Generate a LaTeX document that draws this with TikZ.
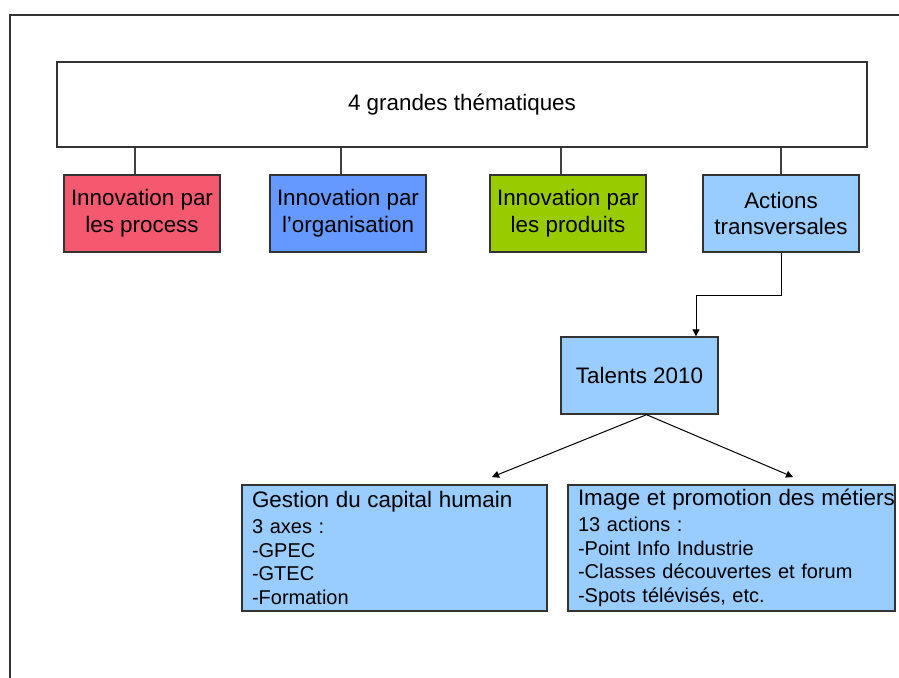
\documentclass[tikz,border=0pt]{standalone}
\usepackage{fontspec}
\setmainfont{Liberation Sans}
\usepackage[HTML]{xcolor}
\usepackage{tikz}
\usetikzlibrary{positioning, arrows.meta}

\definecolor{procred}{HTML}{F5596F}
\definecolor{orgblue}{HTML}{6699FF}
\definecolor{prodgreen}{HTML}{99CC00}
\definecolor{transblue}{HTML}{99CCFF}

\begin{document}
\begin{tikzpicture}[x=0.5pt, y=-0.5pt,
  theme/.style={draw=black!80, line width=0.7pt, minimum width=78pt, minimum height=38.5pt,
    inner sep=0pt, align=center, font=\fontsize{11.2}{13.4}\selectfont},
  detail/.style={draw=black!80, fill=transblue, line width=0.7pt, minimum height=63pt,
    inner xsep=5pt, inner ysep=0pt, align=left, font=\fontsize{10}{11.75}\selectfont},
  link/.style={draw=black!75, line width=0.6pt},
  arrow/.style={draw=black, line width=0.5pt, -{Triangle[length=3.5pt, width=3.5pt]}}]
\useasboundingbox (0,0) rectangle (899,678);
% --- outer frame ---
\draw[black!80, line width=1pt] (10,678) -- (10,15) -- (899,15);
% --- top level ---
\node[theme, minimum width=405pt, minimum height=42.5pt] (top) at (462,104.5) {4 grandes thématiques};
% --- four themes ---
\node[theme, fill=procred] (process) at (142,213.5) {Innovation par\\les process};
\node[theme, fill=orgblue] (orga) at (348,213.5) {Innovation par\\l’organisation};
\node[theme, fill=prodgreen] (produits) at (568,213.5) {Innovation par\\les produits};
\node[theme, fill=transblue] (transv) at (781,213.5) {Actions\\transversales};
\foreach \n/\dx in {process/-7, orga/-7, produits/-7, transv/0}
  \draw[link] (\n.north) ++(\dx,0) coordinate (foot) -- (foot |- top.south);
% --- Talents 2010 ---
\node[theme, fill=transblue, minimum width=78.5pt] (talents) at (639.5,375.5) {Talents 2010};
\draw[arrow] (transv.south) -- ++(0,43) -| ([xshift=28.25pt]talents.north);
% --- two axes ---
\node[detail, text width=142.5pt] (capital) at (394.5,548) {{\fontsize{11.2}{13.4}\selectfont Gestion du capital humain}\\[1.3pt]
  3 axes :\\-GPEC\\-GTEC\\-Formation};
\node[detail, text width=153.5pt] (metiers) at (731.5,548) {\mbox{\fontsize{11.2}{13.4}\selectfont Image et promotion des métiers}\\[1.3pt]
  13 actions :\\-Point Info Industrie\\-Classes découvertes et forum\\-Spots télévisés, etc.};
\coordinate (capin) at (492,477);
\coordinate (metin) at (793,477);
\draw[arrow] ([xshift=3.5pt]talents.south) -- (capin);
\draw[arrow] ([xshift=3.5pt]talents.south) -- (metin);
\end{tikzpicture}
\end{document}
